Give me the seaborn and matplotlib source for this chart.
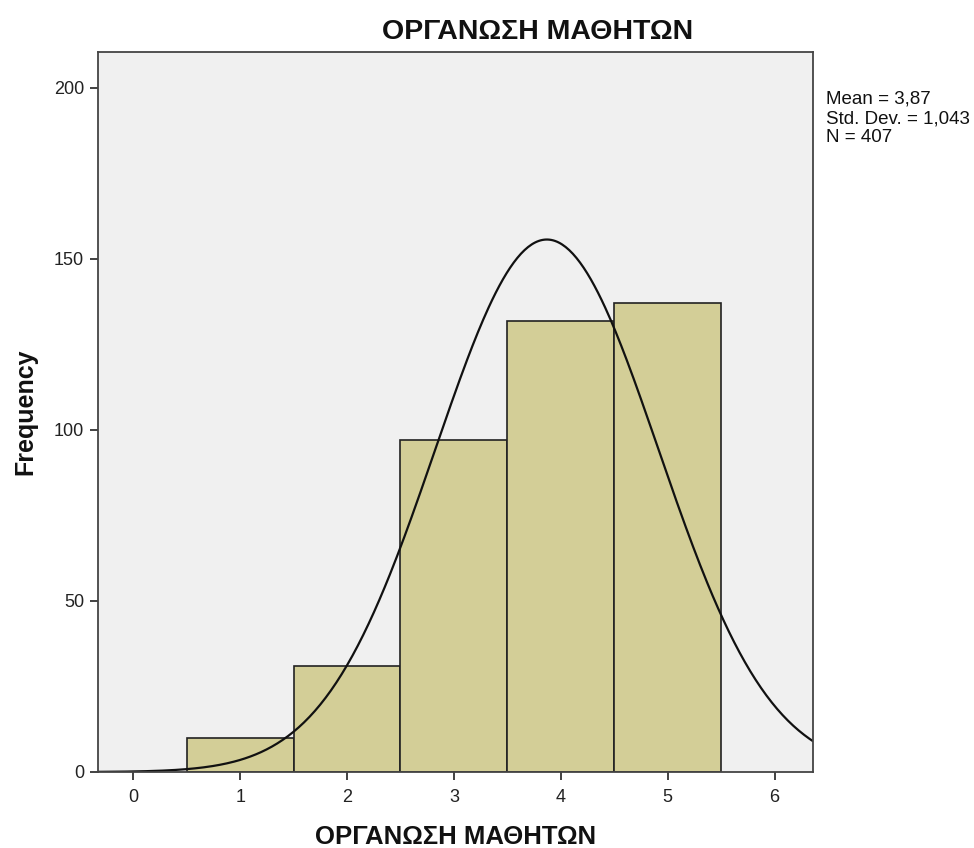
import numpy as np
import pandas as pd
import matplotlib
matplotlib.use("Agg")
import matplotlib.pyplot as plt
import seaborn as sns

# Data
categories = [1, 2, 3, 4, 5]
counts = [10, 31, 97, 132, 137]
mean_val = 3.87
std_val = 1.043
n_total = 407
title = "ΟΡΓΑΝΩΣΗ ΜΑΘΗΤΩΝ"
xticks = [0, 1, 2, 3, 4, 5, 6]
yticks = [0, 50, 100, 150, 200]

sns.set_style("white")
plt.rcParams['font.family'] = ['Liberation Sans', 'DejaVu Sans']

df = pd.DataFrame({"value": categories, "count": counts})

fig = plt.figure(figsize=(9.74, 8.48), dpi=100)
ax = fig.add_axes([98/974, 1 - 772/848, (813-98)/974, (772-52)/848])
ax.set_facecolor("#f0f0f0")

sns.histplot(data=df, x="value", weights="count", binwidth=1.0, binrange=(0.5, 5.5),
             color="#d3ce97", alpha=1.0, edgecolor="#222222", linewidth=1.2, ax=ax)

xs = np.linspace(-0.33, 6.36, 400)
ys = n_total * 1.0 / (std_val * np.sqrt(2 * np.pi)) * np.exp(-0.5 * ((xs - mean_val) / std_val) ** 2)
sns.lineplot(x=xs, y=ys, color="#111111", linewidth=1.6, ax=ax)

ax.set_xlim(-0.33, 6.36)
ax.set_ylim(0, 210.5)
ax.set_xticks(xticks)
ax.set_yticks(yticks)
ax.tick_params(axis="both", direction="out", length=6, width=1.3, color="#333333",
               labelsize=13, labelcolor="#222222", left=True, bottom=True)
ax.tick_params(axis="x", pad=6)
ax.tick_params(axis="y", pad=4)
for s in ax.spines.values():
    s.set_visible(True)
    s.set_color("#444444")
    s.set_linewidth(1.3)

ax.set_xlabel(title, fontsize=18.5, fontweight="bold", labelpad=14, color="#111111")
ax.set_ylabel("Frequency", fontsize=18, fontweight="bold", labelpad=12, color="#111111")
ax.set_title(title, fontsize=20.5, fontweight="bold", pad=9, color="#111111", x=0.615)

fig.text(826/974, 1 - 91/848,
         "Mean = " + f"{mean_val:.2f}".replace(".", ",") + "\n" +
         "Std. Dev. = " + f"{std_val:.3f}".replace(".", ",") + "\n" +
         f"N = {n_total}",
         fontsize=13.5, va="top", ha="left", color="#111111", linespacing=1.17)

fig.savefig("out.png", dpi=100, facecolor="white")
